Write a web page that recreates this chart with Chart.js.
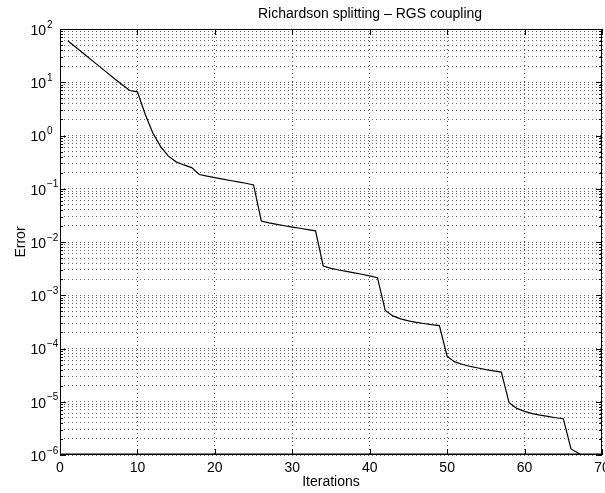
<!DOCTYPE html>
<html>
<head>
<meta charset="utf-8">
<title>Richardson splitting – RGS coupling</title>
<script src="https://cdn.jsdelivr.net/npm/chart.js@4.4.0/dist/chart.umd.min.js"></script>
<style>
  html, body { margin: 0; padding: 0; background: #fff; }
  canvas { display: block; }
</style>
</head>
<body>
<canvas id="chart-error" width="605" height="493"></canvas>
<script>
  // values
  const ITERATIONS = [
    1, 2, 3, 4, 5, 6, 7, 8, 9, 10,
    11, 12, 13, 14, 15, 16, 17, 18, 19, 20,
    21, 22, 23, 24, 25, 26, 27, 28, 29, 30,
    31, 32, 33, 34, 35, 36, 37, 38, 39, 40,
    41, 42, 43, 44, 45, 46, 47, 48, 49, 50,
    51, 52, 53, 54, 55, 56, 57, 58, 59, 60,
    61, 62, 63, 64, 65, 66, 67, 68,
  ];
  const ERRORS = [
    60, 46, 35, 26.6, 20.3, 15.5, 11.8, 9.1, 7.0, 6.6,
    2.5, 1.1, 0.62, 0.41, 0.32, 0.28, 0.25, 0.185, 0.172, 0.162,
    0.152, 0.143, 0.135, 0.127, 0.118, 0.0248, 0.0228, 0.0214, 0.0202, 0.0191,
    0.0181, 0.0171, 0.0162, 0.00355, 0.0032, 0.00298, 0.0028, 0.00263, 0.00248, 0.00231,
    0.00214, 0.00052, 0.00041, 0.00036, 0.00033, 0.00031, 0.000295, 0.00028, 0.00027, 0.000071,
    0.000056, 0.00005, 0.000046, 0.000043, 0.00004, 0.000038, 0.000036, 0.0000096, 0.0000075, 0.0000066,
    0.000006, 0.0000056, 0.0000053, 0.000005, 0.0000048, 0.0000013, 0.00000107, 0.00000093,
  ];
  const X_TICKS = [0, 10, 20, 30, 40, 50, 60, 70];
  const Y_DECADES = [-6, -5, -4, -3, -2, -1, 0, 1, 2];
  const Y_MINOR_STEPS = [1, 2, 3, 4, 5, 6, 7, 8, 9];

  const TITLE = 'Richardson splitting \u2013 RGS coupling';
  const FONT = '"Liberation Sans", Arial, Helvetica, sans-serif';

  // every grid value on the log axis: 1..9 x 10^k, up to the last decade
  const Y_TICK_VALUES = [];
  Y_DECADES.forEach((d, i) => {
    const steps = i === Y_DECADES.length - 1 ? [1] : Y_MINOR_STEPS;
    steps.forEach((m) => Y_TICK_VALUES.push(m * Math.pow(10, d)));
  });

  Chart.defaults.font.family = FONT;
  Chart.defaults.color = '#000';

  // matlab style frame: box, inward ticks, 10^n labels, title
  const matlabFrame = {
    id: 'matlabFrame',
    afterDraw(chart) {
      const { ctx, chartArea: a } = chart;
      const xs = chart.scales.x;
      const ys = chart.scales.y;
      ctx.save();
      ctx.strokeStyle = '#000';
      ctx.lineWidth = 1;

      ctx.beginPath();
      X_TICKS.forEach((v) => {
        const px = Math.round(xs.getPixelForValue(v)) + 0.5;
        ctx.moveTo(px, a.bottom); ctx.lineTo(px, a.bottom - 6);
        ctx.moveTo(px, a.top); ctx.lineTo(px, a.top + 6);
      });
      Y_TICK_VALUES.forEach((v) => {
        const len = Math.abs(Math.log10(v) - Math.round(Math.log10(v))) < 1e-9 ? 6 : 3;
        const py = Math.round(ys.getPixelForValue(v)) + 0.5;
        ctx.moveTo(a.left, py); ctx.lineTo(a.left + len, py);
        ctx.moveTo(a.right, py); ctx.lineTo(a.right - len, py);
      });
      ctx.stroke();

      ctx.strokeRect(Math.round(a.left) + 0.5, Math.round(a.top) + 0.5,
        Math.round(a.right - a.left) - 1, Math.round(a.bottom - a.top) - 1);
      // bottom axis reads a little heavier in the reference
      ctx.beginPath();
      ctx.moveTo(a.left, Math.round(a.bottom) - 1);
      ctx.lineTo(a.right, Math.round(a.bottom) - 1);
      ctx.stroke();

      ctx.fillStyle = '#000';
      Y_DECADES.forEach((d) => {
        const py = ys.getPixelForValue(Math.pow(10, d));
        ctx.font = '14px ' + FONT;
        ctx.textAlign = 'right';
        ctx.textBaseline = 'middle';
        ctx.fillText('10', 46, py + 2);
        ctx.font = '10px ' + FONT;
        ctx.textAlign = 'left';
        ctx.textBaseline = 'alphabetic';
        ctx.fillText(d < 0 ? '\u2212' + (-d) : String(d), 47, py - 1.5);
      });

      ctx.font = '14px ' + FONT;
      ctx.textAlign = 'center';
      ctx.textBaseline = 'middle';
      ctx.fillText(TITLE, 370, 14);
      ctx.restore();
    },
  };

  new Chart(document.getElementById('chart-error'), {
    type: 'line',
    data: {
      datasets: [{
        data: ITERATIONS.map((it, i) => ({ x: it, y: ERRORS[i] })),
        borderColor: '#000',
        borderWidth: 1.2,
        pointRadius: 0,
        tension: 0,
        fill: false,
      }],
    },
    options: {
      responsive: false,
      animation: false,
      devicePixelRatio: 1,
      layout: { padding: { top: 29, right: 3, left: 0, bottom: 0 } },
      plugins: { legend: { display: false }, tooltip: { enabled: false }, title: { display: false } },
      scales: {
        x: {
          type: 'linear',
          min: 0,
          max: 70,
          afterBuildTicks: (s) => { s.ticks = X_TICKS.map((value) => ({ value })); },
          afterFit: (s) => { s.height = 38; s.paddingLeft = 0; s.paddingRight = 0; },
          ticks: { font: { size: 14 }, color: '#000', padding: 5, maxRotation: 0 },
          grid: { color: 'rgba(0,0,0,0.6)', lineWidth: 1, drawTicks: false },
          border: { display: false, dash: [1, 3] },
          title: { display: true, text: 'Iterations', font: { size: 14 }, color: '#000', padding: { top: 0, bottom: 2 } },
        },
        y: {
          type: 'logarithmic',
          min: 1e-6,
          max: 100,
          afterBuildTicks: (s) => { s.ticks = Y_TICK_VALUES.map((value) => ({ value })); },
          afterFit: (s) => { s.width = 60; s.paddingTop = 0; s.paddingBottom = 0; },
          ticks: { display: false },
          grid: { color: 'rgba(0,0,0,0.6)', lineWidth: 1, drawTicks: false },
          border: { display: false, dash: [1, 3] },
          title: { display: true, text: 'Error', font: { size: 14 }, color: '#000', padding: { top: 13, bottom: 0 } },
        },
      },
    },
    plugins: [matlabFrame],
  });
</script>
</body>
</html>
